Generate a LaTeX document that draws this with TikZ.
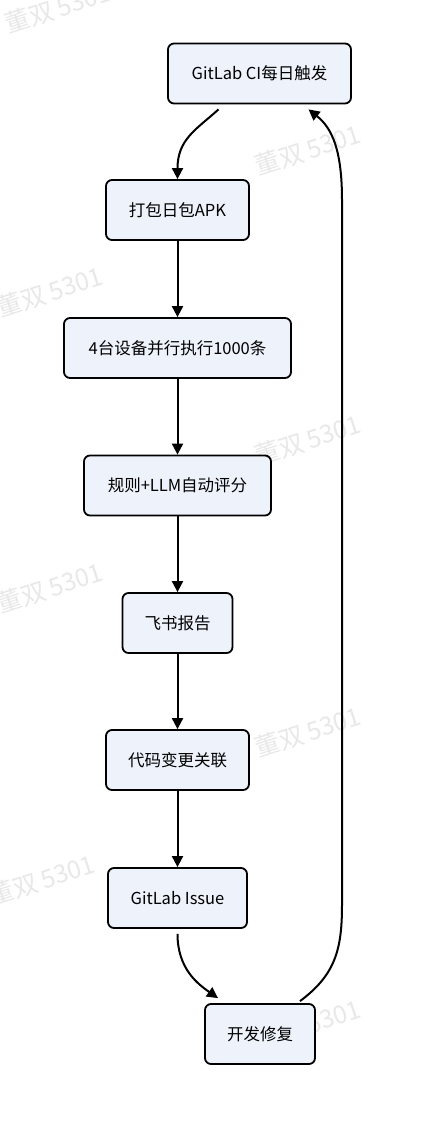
\documentclass[tikz,border=0pt]{standalone}
\usepackage{fontspec}
\setmainfont{Noto Sans CJK SC}
\usetikzlibrary{arrows.meta,calc}
\begin{document}
\begin{tikzpicture}[x=1pt,y=-1pt,
  box/.style={draw=black,line width=1.8pt,fill=boxfill,rounded corners=6pt,
    minimum height=60pt,inner sep=0pt,font=\fontsize{16.5}{19}\selectfont},
  link/.style={line width=2pt,-{Triangle[length=11pt,width=11pt]}},
  wm/.style={text=black!9,font=\fontsize{25}{28}\selectfont,rotate=18}]
\definecolor{boxfill}{HTML}{EEF2FB}
\useasboundingbox (0,0) rectangle (440,1126);
% watermarks
\foreach \wx/\wy in {58/8,308/150,50/292,308/440,50/588,308/732,42/880,308/1025}
  \node[wm] at (\wx,\wy) {董双\,5301};
\node[box,minimum width=183pt] (n1) at (259.5,73.5) {GitLab CI每日触发};
\node[box,minimum width=143pt] (n2) at (177.5,210) {打包日包APK};
\node[box,minimum width=227pt] (n3) at (177.5,348) {4台设备并行执行1000条};
\node[box,minimum width=187pt] (n4) at (177.5,485.5) {规则+LLM自动评分};
\node[box,minimum width=110pt] (n5) at (177.5,623) {飞书报告};
\node[box,minimum width=143pt] (n6) at (177.5,760) {代码变更关联};
\node[box,minimum width=139pt] (n7) at (177.5,898) {GitLab Issue};
\node[box,minimum width=110pt] (n8) at (260,1034) {开发修复};
% connectors
\coordinate (a1) at ($(n1.south)+(-41,5)$);
\draw[link] (a1) .. controls ($(a1)+(-22,20)$) and ($(n2.north)+(0,-40)$) .. (n2.north);
\draw[link] (n2) -- (n3);
\draw[link] (n3) -- (n4);
\draw[link] (n4) -- (n5);
\draw[link] (n5) -- (n6);
\draw[link] (n6) -- (n7);
\coordinate (b1) at ($(n8.north)+(-42,-5)$);
\draw[link] ($(n7.south)+(0,5)$) .. controls ($(n7.south)+(0,40)$) and ($(b1)+(-20,-14)$) .. (b1);
\coordinate (c0) at ($(n8.north)+(40,-2)$);
\coordinate (c3) at ($(n1.south)+(49,5)$);
\draw[link] (c0) .. controls (335,975) and (342,950) .. (342,905)
  -- (342,200) .. controls (342,150) and (332,128) .. (c3);
\end{tikzpicture}
\end{document}
